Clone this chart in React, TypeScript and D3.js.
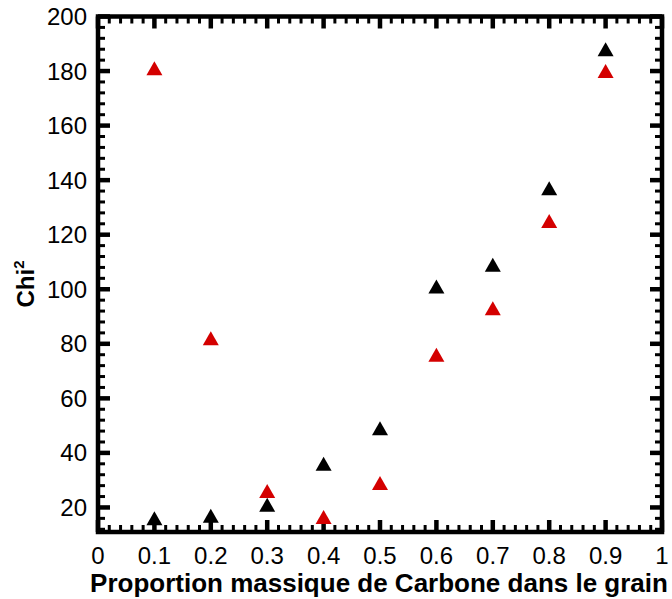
import React from "react";
import * as d3 from "d3";

const proportions = [0.1, 0.2, 0.3, 0.4, 0.5, 0.6, 0.7, 0.8, 0.9];
const chiBlack = [16, 17, 21, 36, 49, 101, 109, 137, 188];
const chiRed = [181, 82, 26, 16.5, 29, 76, 93, 125, 180];
const xTickValues = [0, 0.1, 0.2, 0.3, 0.4, 0.5, 0.6, 0.7, 0.8, 0.9, 1];
const xTickLabels = ["0", "0.1", "0.2", "0.3", "0.4", "0.5", "0.6", "0.7", "0.8", "0.9", "1"];
const yTickValues = [20, 40, 60, 80, 100, 120, 140, 160, 180, 200];
const yTickLabels = ["20", "40", "60", "80", "100", "120", "140", "160", "180", "200"];

const W = 672;
const H = 599;
const L = 98, R = 662, T = 16.5, B = 532;

export default function App() {
  const x = d3.scaleLinear().domain([0, 1]).range([L, R]);
  const y = d3.scaleLinear().domain([11, 200]).range([B, T]);

  const xMinor = d3.range(0, 1.0001, 0.02).filter((v) => Math.abs(v * 10 - Math.round(v * 10)) > 1e-6);
  const yMinor = d3.range(12, 200.001, 4).filter((v) => v % 20 !== 0);

  const triPath = (cx: number, cy: number) => {
    const w = 16, h = 14;
    return `M${cx},${cy - h / 2}L${cx + w / 2},${cy + h / 2}L${cx - w / 2},${cy + h / 2}Z`;
  };

  const font = "'Liberation Sans', Arial, Helvetica, sans-serif";
  const majorLen = 12, minorLen = 7;

  return (
    <svg width={W} height={H} style={{ position: "absolute", left: 0, top: 0, background: "#fff" }} fontFamily={font}>
      {xMinor.map((v, i) => (
        <g key={"xm" + i} stroke="#000" strokeWidth={3}>
          <line x1={x(v)} x2={x(v)} y1={B} y2={B - minorLen} />
          <line x1={x(v)} x2={x(v)} y1={T} y2={T + minorLen} />
        </g>
      ))}
      {xTickValues.map((v, i) => (
        <g key={"xM" + i} stroke="#000" strokeWidth={4.5}>
          <line x1={x(v)} x2={x(v)} y1={B} y2={B - majorLen} />
          <line x1={x(v)} x2={x(v)} y1={T} y2={T + majorLen} />
        </g>
      ))}
      {yMinor.map((v, i) => (
        <g key={"ym" + i} stroke="#000" strokeWidth={3}>
          <line x1={L} x2={L + minorLen} y1={y(v)} y2={y(v)} />
          <line x1={R} x2={R - minorLen} y1={y(v)} y2={y(v)} />
        </g>
      ))}
      {yTickValues.map((v, i) => (
        <g key={"yM" + i} stroke="#000" strokeWidth={4.5}>
          <line x1={L} x2={L + majorLen} y1={y(v)} y2={y(v)} />
          <line x1={R} x2={R - majorLen} y1={y(v)} y2={y(v)} />
        </g>
      ))}
      <rect x={L} y={T} width={R - L} height={B - T} fill="none" stroke="#000" strokeWidth={4.5} />

      {xTickValues.map((v, i) => (
        <text key={"xl" + i} x={x(v)} y={564} textAnchor="middle" fontSize={24} fill="#000">
          {xTickLabels[i]}
        </text>
      ))}
      {yTickValues.map((v, i) => (
        <text key={"yl" + i} x={87} y={y(v) + 8.5} textAnchor="end" fontSize={24} fill="#000">
          {yTickLabels[i]}
        </text>
      ))}

      <text x={(L + R) / 2 - 1} y={592} textAnchor="middle" fontSize={26} fontWeight="bold" fill="#000">
        Proportion massique de Carbone dans le grain
      </text>
      <text transform={`translate(34,284) rotate(-90)`} textAnchor="middle" fontSize={24} fontWeight="bold" fill="#000">
        Chi<tspan fontSize={15} dy={-10}>2</tspan>
      </text>

      {proportions.map((p, i) => (
        <path key={"b" + i} d={triPath(x(p), y(chiBlack[i]))} fill="#000" />
      ))}
      {proportions.map((p, i) => (
        <path key={"r" + i} d={triPath(x(p), y(chiRed[i]))} fill="#d40000" />
      ))}
    </svg>
  );
}
